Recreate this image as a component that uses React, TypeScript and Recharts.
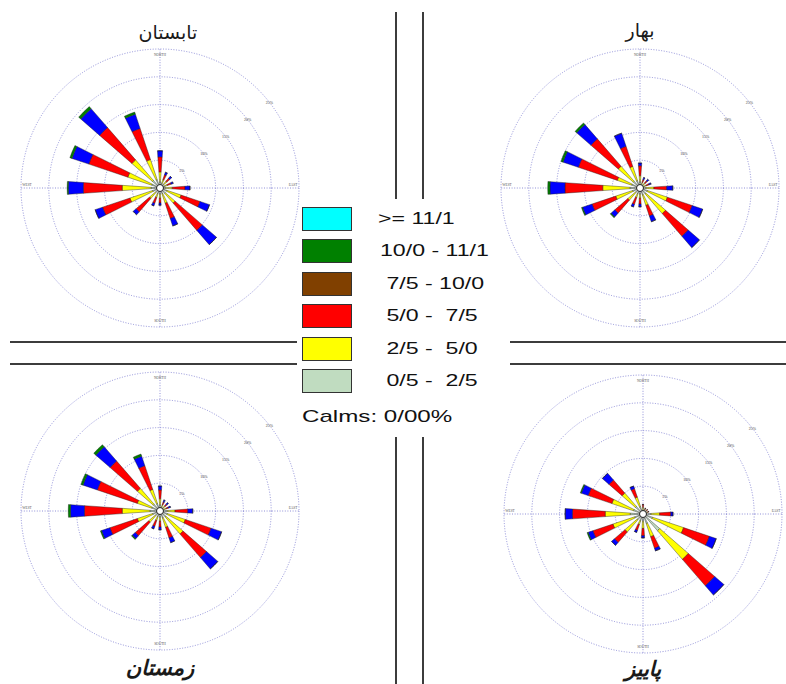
import React from "react";
import {
  PolarAngleAxis,
  PolarGrid,
  PolarRadiusAxis,
  RadialBar,
  RadialBarChart,
} from "recharts";

const DIRS = ["N", "NNE", "NE", "ENE", "E", "ESE", "SE", "SSE", "S", "SSW", "SW", "WSW", "W", "WNW", "NW", "NNW"];

// frequency (%) per direction, columns = speed classes 0.5-2.5, 2.5-5.0, 5.0-7.5, 7.5-10.0, 10.0-11.1
const SUMMER = [
  [1.1, 1.8, 2.7, 1.1, 0], [0.9, 0.7, 0.9, 0.5, 0], [0.9, 0.7, 0.7, 0.5, 0], [0.9, 0.5, 0.7, 0.4, 0],
  [0.9, 1.3, 2.3, 0.9, 0], [1.3, 2.7, 3.6, 1.8, 0], [1.3, 2.3, 6.5, 3.4, 0], [1.1, 1.8, 2.9, 1.4, 0],
  [1.1, 0.7, 0.9, 0.4, 0], [1.1, 0.7, 1.1, 0.5, 0], [1.1, 1.4, 3.2, 0.7, 0], [1.4, 4.3, 5.2, 1.4, 0],
  [1.6, 5.2, 7.0, 2.7, 0.2], [1.6, 4.5, 7.4, 3.2, 0.4], [1.8, 4.9, 7.7, 4.5, 0.5], [1.6, 3.8, 5.9, 2.7, 0.4],
];
const SPRING = [
  [1.1, 1.1, 1.8, 0.5, 0], [0.7, 0.4, 0.5, 0.4, 0], [0.7, 0.5, 0.5, 0.4, 0], [0.7, 0.5, 0.5, 0.4, 0],
  [1.1, 1.4, 2.3, 1.1, 0], [1.4, 3.8, 4.7, 2.0, 0], [1.4, 4.7, 5.4, 2.7, 0], [1.3, 2.0, 2.0, 1.1, 0],
  [1.1, 0.7, 1.1, 0.5, 0], [1.1, 0.7, 1.3, 0.5, 0], [1.1, 1.8, 3.1, 0.9, 0.2], [1.4, 3.2, 4.5, 1.8, 0.2],
  [1.8, 4.9, 6.8, 2.7, 0.4], [1.6, 2.7, 7.4, 2.9, 0.4], [1.6, 3.6, 6.5, 3.4, 0.4], [1.4, 2.7, 3.8, 2.5, 0],
];
const WINTER = [
  [1.1, 1.1, 1.6, 0.7, 0], [0.7, 0.5, 0.5, 0.4, 0], [0.7, 0.5, 0.4, 0.4, 0], [0.7, 0.5, 0.4, 0.4, 0],
  [1.3, 1.4, 2.3, 0.9, 0], [1.4, 3.4, 4.9, 2.0, 0], [1.4, 4.1, 5.6, 2.7, 0], [1.3, 1.8, 2.0, 0.9, 0],
  [1.1, 0.7, 1.1, 0.5, 0], [1.1, 0.7, 1.1, 0.5, 0], [1.1, 1.6, 3.2, 0.7, 0.2], [1.4, 2.9, 5.2, 1.6, 0.2],
  [1.8, 5.0, 6.8, 2.5, 0.4], [1.6, 2.7, 7.6, 2.7, 0.4], [1.6, 3.8, 6.5, 3.4, 0.5], [1.4, 2.7, 4.5, 1.8, 0.4],
];
const AUTUMN = [
  [0.7, 0.5, 0.5, 0, 0], [0.7, 0.2, 0.2, 0, 0], [0.7, 0.2, 0.2, 0, 0], [0.7, 0.2, 0.2, 0, 0],
  [1.4, 1.6, 2.0, 0.4, 0], [1.8, 5.9, 4.9, 1.3, 0], [4.0, 6.8, 6.3, 2.2, 0], [1.8, 2.5, 2.2, 0.5, 0],
  [1.3, 1.3, 1.3, 0.4, 0], [1.3, 0.7, 1.1, 0.4, 0], [1.4, 2.9, 2.5, 0.7, 0], [1.6, 4.1, 3.8, 0.9, 0.2],
  [2.3, 4.5, 5.9, 1.3, 0], [1.8, 4.1, 4.5, 1.3, 0.2], [1.8, 3.2, 3.1, 1.6, 0], [1.4, 1.8, 1.6, 0.5, 0],
];

const CLASS_KEYS = ["s1", "s2", "s3", "s4", "s5"];
const PETAL_COLORS = ["#c0dcc0", "#ffff00", "#ff0000", "#0000ff", "#008000"];

const LEGEND_LABELS = [">= 11/1", "10/0 - 11/1", "\u00a07/5 - 10/0", "\u00a05/0 - \u00a07/5", "\u00a02/5 - \u00a05/0", "\u00a00/5 - \u00a02/5"];
const LEGEND_COLORS = ["#00ffff", "#008000", "#804000", "#ff0000", "#ffff00", "#c0dcc0"];
const CALMS = "Calms: 0/00%";

const CARDINAL: Record<string, string> = { N: "NORTH", E: "EAST", S: "SOUTH", W: "WEST" };

const SIZE = 320;
const C = SIZE / 2;
const R = 139;

// cardinal names sit just inside the outer ring, placed by the direction's bearing
function CardinalTick(props: any) {
  const { payload } = props;
  const label = CARDINAL[payload.value];
  if (!label) return <g />;
  const bearing = (DIRS.indexOf(payload.value) * 22.5 * Math.PI) / 180;
  const r = R - 6;
  return (
    <text
      x={C + r * Math.sin(bearing)}
      y={C - r * Math.cos(bearing) - (label === "EAST" || label === "WEST" ? 3 : 0)}
      fontSize={3.5}
      fill="#555"
      textAnchor="middle"
      dominantBaseline="central"
    >
      {label}
    </text>
  );
}

function RingTick(props: any) {
  const { x, y, payload } = props;
  if (!payload.value) return <g />;
  return (
    <text x={x} y={y} fontSize={4} fill="#444" textAnchor="middle" dominantBaseline="central">
      {`${payload.value}%`}
    </text>
  );
}

function Rose({ rows, x, y }: { rows: number[][]; x: number; y: number }) {
  const data = DIRS.map((dir, i) => {
    const row: Record<string, string | number> = { dir };
    CLASS_KEYS.forEach((k, j) => (row[k] = rows[i][j]));
    return row;
  });
  return (
    <div style={{ position: "absolute", left: x - C, top: y - C, width: SIZE, height: SIZE }}>
      <RadialBarChart
        width={SIZE}
        height={SIZE}
        data={data}
        layout="centric"
        startAngle={78.75}
        endAngle={-281.25}
        innerRadius={0}
        outerRadius={R}
        barCategoryGap="32%"
        margin={{ top: 0, right: 0, bottom: 0, left: 0 }}
      >
        <PolarGrid
          gridType="circle"
          polarAngles={[0, 90, 180, 270]}
          stroke="#8484d4"
          strokeDasharray="1 1.6"
          strokeWidth={0.9}
        />
        <PolarAngleAxis type="category" dataKey="dir" axisLine={false} tickLine={false} tick={CardinalTick} />
        <PolarRadiusAxis
          type="number"
          domain={[0, 25]}
          tickCount={6}
          angle={38}
          axisLine={false}
          tickLine={false}
          tick={RingTick}
        />
        {CLASS_KEYS.map((k, i) => (
          <RadialBar
            key={k}
            dataKey={k}
            stackId="a"
            fill={PETAL_COLORS[i]}
            stroke="#1a1a1a"
            strokeWidth={0.4}
            isAnimationActive={false}
          />
        ))}
      </RadialBarChart>
      <div
        style={{
          position: "absolute",
          left: C - 4,
          top: C - 4,
          width: 8,
          height: 8,
          boxSizing: "border-box",
          border: "1px solid #222",
          borderRadius: "50%",
          background: "#fff",
        }}
      />
    </div>
  );
}

const line = (left: number, top: number, width: number, height: number) => (
  <div style={{ position: "absolute", left, top, width, height, background: "#3c3c3c" }} />
);

function Title({ text, x, y, bold }: { text: string; x: number; y: number; bold?: boolean }) {
  return (
    <div
      style={{
        position: "absolute",
        left: x - 100,
        top: y - 14,
        width: 200,
        height: 28,
        lineHeight: "28px",
        textAlign: "center",
        fontFamily: "'DejaVu Sans', sans-serif",
        fontSize: bold ? 21 : 19,
        fontWeight: bold ? 700 : 400,
        fontStyle: bold ? "italic" : "normal",
        color: "#1a1a1a",
      }}
    >
      {text}
    </div>
  );
}

export default function App() {
  return (
    <div
      style={{
        position: "absolute",
        left: 0,
        top: 0,
        width: 786,
        height: 684,
        background: "#fff",
        overflow: "hidden",
      }}
    >
      <Rose rows={SUMMER} x={160} y={188} />
      <Rose rows={SPRING} x={640} y={188} />
      <Rose rows={WINTER} x={160} y={511} />
      <Rose rows={AUTUMN} x={643} y={514} />

      <Title text="تابستان" x={168} y={32} />
      <Title text="بهار" x={640} y={30} />
      <Title text="زمستان" x={160} y={668} bold />
      <Title text="پاییز" x={643} y={669} bold />

      {line(395, 12, 1.6, 187)}
      {line(422, 12, 1.6, 187)}
      {line(395, 437, 1.6, 247)}
      {line(422, 437, 1.6, 247)}
      {line(10, 341, 287, 1.6)}
      {line(10, 363, 287, 1.6)}
      {line(510, 341, 276, 1.6)}
      {line(510, 363, 276, 1.6)}

      {LEGEND_LABELS.map((label, i) => (
        <div key={label} style={{ position: "absolute", left: 302, top: 207 + i * 32.4, height: 24 }}>
          <div
            style={{
              position: "absolute",
              left: 0,
              top: 0,
              width: 50,
              height: 24,
              boxSizing: "border-box",
              border: "1px solid #333",
              background: LEGEND_COLORS[i],
            }}
          />
          <div
            style={{
              position: "absolute",
              left: i === 0 ? 76 : 78,
              top: 0,
              height: 24,
              lineHeight: "24px",
              whiteSpace: "pre",
              fontFamily: "'Liberation Sans', Arial, sans-serif",
              fontSize: 17,
              color: "#111",
              transform: "scaleX(1.36)",
              transformOrigin: "left center",
            }}
          >
            {label}
          </div>
        </div>
      ))}
      <div
        style={{
          position: "absolute",
          left: 302,
          top: 405,
          height: 24,
          lineHeight: "24px",
          whiteSpace: "pre",
          fontFamily: "'Liberation Sans', Arial, sans-serif",
          fontSize: 17,
          color: "#111",
          transform: "scaleX(1.42)",
          transformOrigin: "left center",
        }}
      >
        {CALMS}
      </div>
    </div>
  );
}
